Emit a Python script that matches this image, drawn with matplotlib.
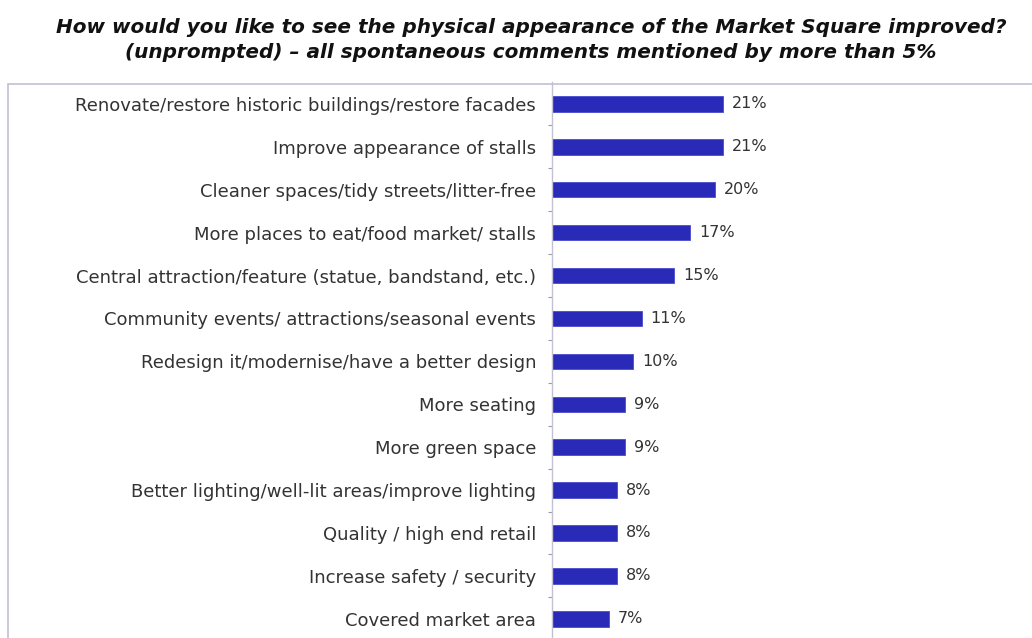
import matplotlib.pyplot as plt
from matplotlib.patches import Rectangle
import numpy as np

categories = [
    "Renovate/restore historic buildings/restore facades",
    "Improve appearance of stalls",
    "Cleaner spaces/tidy streets/litter-free",
    "More places to eat/food market/ stalls",
    "Central attraction/feature (statue, bandstand, etc.)",
    "Community events/ attractions/seasonal events",
    "Redesign it/modernise/have a better design",
    "More seating",
    "More green space",
    "Better lighting/well-lit areas/improve lighting",
    "Quality / high end retail",
    "Increase safety / security",
    "Covered market area",
]
values = [21, 21, 20, 17, 15, 11, 10, 9, 9, 8, 8, 8, 7]

title = ("How would you like to see the physical appearance of the Market Square improved?\n"
         "(unprompted) \u2013 all spontaneous comments mentioned by more than 5%")

plt.rcParams['font.family'] = ['DejaVu Sans']

W, H = 1032, 638
fig = plt.figure(figsize=(W / 100, H / 100), dpi=100)

# outer frame around the chart body
fig.patches.append(Rectangle((8 / W, -0.1), 1.2, 1.1 - 84 / H, transform=fig.transFigure,
                             fill=False, edgecolor="#c4bed6", linewidth=1.2))

fig.text(531 / W, 1 - 40 / H, title, ha="center", va="center", fontsize=14.4,
         fontweight="bold", fontstyle="italic", color="#111111", linespacing=1.35)

px_per_pct = 8.14
ax_left, ax_right = 552, W
ax_top, ax_bot = 82.5, 104 + 12.5 * 42.9
ax = fig.add_axes([ax_left / W, 1 - ax_bot / H, (ax_right - ax_left) / W, (ax_bot - ax_top) / H])

y = np.arange(len(categories))
ax.barh(y, values, height=0.36, color="#2a2ab8", edgecolor="#4a4ad0", linewidth=0.6)
for yi, v in zip(y, values):
    ax.text(v + 1.1, yi, f"{v}%", va="center", ha="left", fontsize=11.5, color="#333333")

ax.set_xlim(0, (ax_right - ax_left) / px_per_pct)
ax.set_ylim(len(categories) - 0.5, -0.5)
ax.set_yticks(y)
ax.set_yticklabels(categories, fontsize=13.0, color="#333333")
ax.set_yticks(np.arange(len(categories)) + 0.5, minor=True)
ax.tick_params(axis="y", which="major", length=0, pad=11.5)
ax.tick_params(axis="y", which="minor", length=3, color="#9a98b0", width=0.8)
ax.set_xticks([])
for s in ["top", "right", "bottom"]:
    ax.spines[s].set_visible(False)
ax.spines["left"].set_color("#c4c0d4")
ax.spines["left"].set_linewidth(1.0)

fig.savefig("out.png", dpi=100)
